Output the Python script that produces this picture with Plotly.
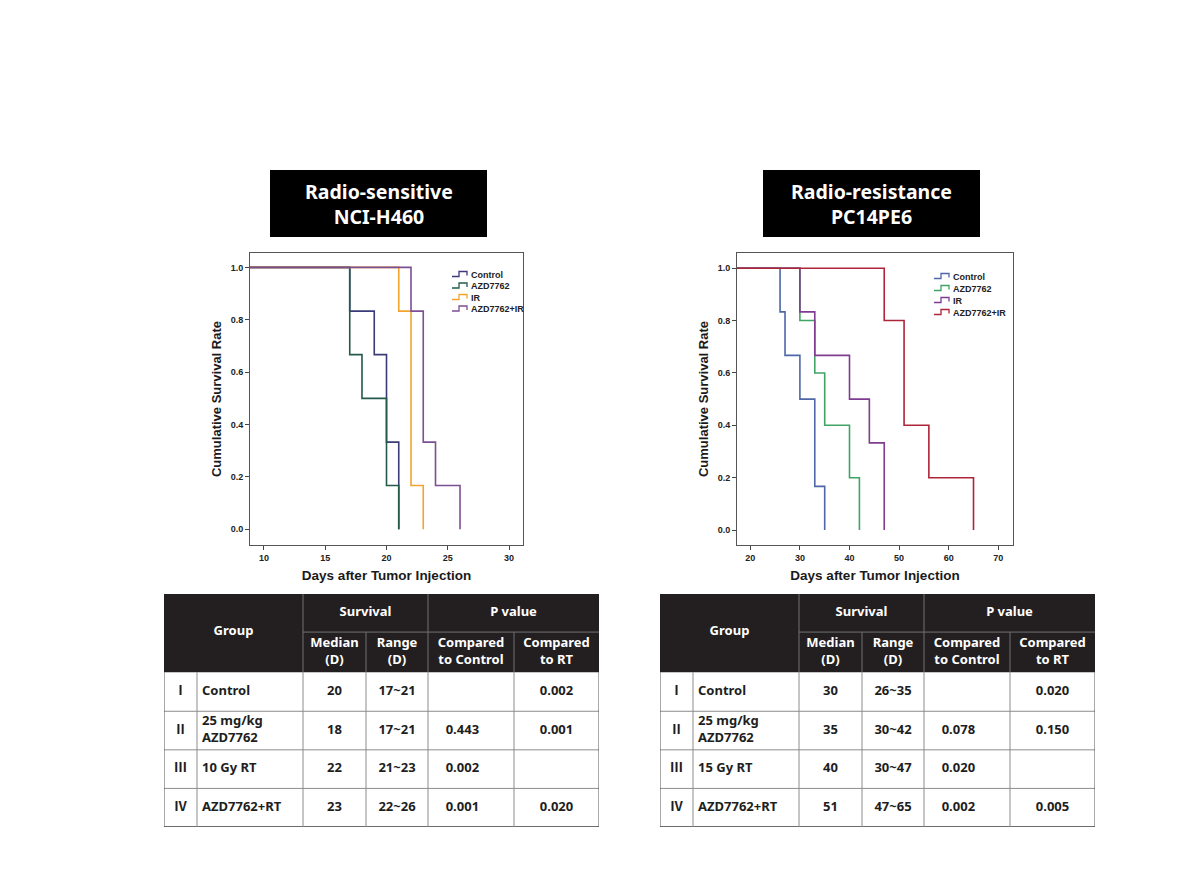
import plotly.graph_objects as go

W, H = 1190, 874

# ---------------- data ----------------
GROUPS = ["Control", "AZD7762", "IR", "AZD7762+IR"]

# NCI-H460 (radio-sensitive): event days and survival after each event
H460_CONTROL_DAYS = [17, 19, 20, 21]
H460_CONTROL_SURV = [0.833, 0.667, 0.333, 0.0]
H460_AZD_DAYS = [17, 18, 20, 21]
H460_AZD_SURV = [0.667, 0.5, 0.167, 0.0]
H460_IR_DAYS = [21, 22, 23]
H460_IR_SURV = [0.833, 0.167, 0.0]
H460_COMBO_DAYS = [22, 23, 24, 26]
H460_COMBO_SURV = [0.833, 0.333, 0.167, 0.0]

# PC14PE6 (radio-resistance)
PC14_CONTROL_DAYS = [26, 27, 30, 33, 35]
PC14_CONTROL_SURV = [0.833, 0.667, 0.5, 0.167, 0.0]
PC14_AZD_DAYS = [30, 33, 35, 40, 42]
PC14_AZD_SURV = [0.8, 0.6, 0.4, 0.2, 0.0]
PC14_IR_DAYS = [30, 33, 40, 44, 47]
PC14_IR_SURV = [0.833, 0.667, 0.5, 0.333, 0.0]
PC14_COMBO_DAYS = [47, 51, 56, 65]
PC14_COMBO_SURV = [0.8, 0.4, 0.2, 0.0]

H460_XTICKS = [10, 15, 20, 25, 30]
PC14_XTICKS = [20, 30, 40, 50, 60, 70]
Y_TICKS = [0.0, 0.2, 0.4, 0.6, 0.8, 1.0]

# Tables
ROMAN = ["Ⅰ", "Ⅱ", "Ⅲ", "Ⅳ"]
HEADER_TOP = ["Group", "Survival", "P value"]
HEADER_SUB = ["Median<br>(D)", "Range<br>(D)", "Compared<br>to Control", "Compared<br>to RT"]

H460_NAMES = ["Control", "25 mg/kg<br>AZD7762", "10 Gy RT", "AZD7762+RT"]
H460_MEDIAN = ["20", "18", "22", "23"]
H460_RANGE = ["17~21", "17~21", "21~23", "22~26"]
H460_P_CONTROL = ["", "0.443", "0.002", "0.001"]
H460_P_RT = ["0.002", "0.001", "", "0.020"]

PC14_NAMES = ["Control", "25 mg/kg<br>AZD7762", "15 Gy RT", "AZD7762+RT"]
PC14_MEDIAN = ["30", "35", "40", "51"]
PC14_RANGE = ["26~35", "30~42", "30~47", "47~65"]
PC14_P_CONTROL = ["", "0.078", "0.020", "0.002"]
PC14_P_RT = ["0.020", "0.150", "", "0.005"]

TITLE_LEFT = "Radio-sensitive<br>NCI-H460"
TITLE_RIGHT = "Radio-resistance<br>PC14PE6"

# ---------------- styles ----------------
H460_COLORS = ["#3a3b78", "#245a4b", "#f3a42f", "#7d4f92"]
PC14_COLORS = ["#4f66a8", "#3fa464", "#7f3c90", "#ae2438"]
AX_FONT = "Liberation Sans"
KR_FONT = "Noto Sans CJK KR"


def px(x):
    return x / W


def py(y):
    return 1 - y / H


fig = go.Figure()
shapes = []
annotations = []


def km_traces(days_list, surv_list, colors, xa, ya):
    for name, d, s, c in zip(GROUPS, days_list, surv_list, colors):
        fig.add_trace(go.Scatter(
            x=[0] + d, y=[1.0] + s, mode="lines", line_shape="hv",
            line=dict(color=c, width=1.6), name=name, showlegend=False,
            xaxis=xa, yaxis=ya, hoverinfo="skip"))


km_traces([H460_CONTROL_DAYS, H460_AZD_DAYS, H460_IR_DAYS, H460_COMBO_DAYS],
          [H460_CONTROL_SURV, H460_AZD_SURV, H460_IR_SURV, H460_COMBO_SURV],
          H460_COLORS, "x", "y")
km_traces([PC14_CONTROL_DAYS, PC14_AZD_DAYS, PC14_IR_DAYS, PC14_COMBO_DAYS],
          [PC14_CONTROL_SURV, PC14_AZD_SURV, PC14_IR_SURV, PC14_COMBO_SURV],
          PC14_COLORS, "x2", "y2")


# custom compact legends (SPSS style step icons)
def legend(x0, y0, dy, colors):
    for i, (name, c) in enumerate(zip(GROUPS, colors)):
        yc = y0 + i * dy
        path = (f"M {px(x0)},{py(yc + 2)} L {px(x0 + 7)},{py(yc + 2)} "
                f"L {px(x0 + 7)},{py(yc - 3)} L {px(x0 + 15)},{py(yc - 3)} "
                f"L {px(x0 + 15)},{py(yc + 1)}")
        shapes.append(dict(type="path", xref="paper", yref="paper", path=path,
                           line=dict(color=c, width=1.3)))
        annotations.append(dict(xref="paper", yref="paper", x=px(x0 + 17), y=py(yc),
                                text=name, showarrow=False, xanchor="left", yanchor="middle",
                                font=dict(family=AX_FONT, size=9, color="#222", weight="bold")))


legend(452, 274.5, 11.5, H460_COLORS)
legend(934, 276.5, 12, PC14_COLORS)

# title boxes
for (x0, x1), txt in [((270, 487), TITLE_LEFT), ((763, 980), TITLE_RIGHT)]:
    shapes.append(dict(type="rect", xref="paper", yref="paper",
                       x0=px(x0), x1=px(x1), y0=py(237), y1=py(170),
                       fillcolor="#000000", line=dict(width=0)))
    annotations.append(dict(xref="paper", yref="paper", x=px((x0 + x1) / 2), y=py(204),
                            text=txt, showarrow=False, xanchor="center", yanchor="middle",
                            align="center",
                            font=dict(family="Noto Sans", size=19.5, color="#ffffff",
                                      weight="bold")))

# ---------------- tables ----------------
COL_W = [33, 106, 63, 62, 86, 85]
ROW_H = [38, 40, 39, 38.5, 38.5, 38.5]
XE = [sum(COL_W[:i]) for i in range(len(COL_W) + 1)]
YE = [sum(ROW_H[:i]) for i in range(len(ROW_H) + 1)]
TW, TH = XE[-1], YE[-1]
HDR = YE[2]


def table(xa, ya, names, median, rng, pc, prt):
    xr, yr = xa, ya
    ln_h = "#707070"
    ln_b = "#8c8c8c"
    shapes.append(dict(type="rect", xref=xr, yref=yr, x0=0, x1=TW, y0=0, y1=HDR,
                       fillcolor="#231f20", line=dict(width=0), layer="below"))
    # header inner lines
    shapes.append(dict(type="line", xref=xr, yref=yr, x0=XE[2], x1=TW, y0=YE[1], y1=YE[1],
                       line=dict(color=ln_h, width=1)))
    for xv, ytop in [(XE[2], 0), (XE[4], 0), (XE[3], YE[1]), (XE[5], YE[1])]:
        shapes.append(dict(type="line", xref=xr, yref=yr, x0=xv, x1=xv, y0=ytop, y1=HDR,
                           line=dict(color=ln_h, width=1)))
    # body lines
    for yv in YE[3:-1]:
        shapes.append(dict(type="line", xref=xr, yref=yr, x0=0, x1=TW, y0=yv, y1=yv,
                           line=dict(color=ln_b, width=1)))
    shapes.append(dict(type="line", xref=xr, yref=yr, x0=0, x1=TW, y0=TH, y1=TH,
                       line=dict(color="#3a3a3a", width=1.5)))
    for i, xv in enumerate(XE):
        shapes.append(dict(type="line", xref=xr, yref=yr, x0=xv, x1=xv, y0=HDR, y1=TH,
                           line=dict(color="#555555" if i in (0, len(XE) - 1) else ln_b,
                                     width=1)))

    hfont = dict(family="Noto Sans", size=13, color="#ffffff", weight="bold")
    bfont = dict(family="Noto Sans", size=13, color="#1e1e1e", weight="bold")
    # header text
    fig.add_trace(go.Scatter(
        x=[(XE[0] + XE[2]) / 2, (XE[2] + XE[4]) / 2, (XE[4] + XE[6]) / 2],
        y=[HDR / 2 - 1, YE[1] / 2, YE[1] / 2],
        text=HEADER_TOP, mode="text", textposition="middle center", textfont=hfont,
        xaxis=xa, yaxis=ya, showlegend=False, hoverinfo="skip"))
    fig.add_trace(go.Scatter(
        x=[(XE[i] + XE[i + 1]) / 2 for i in range(2, 6)],
        y=[(YE[1] + YE[2]) / 2] * 4,
        text=HEADER_SUB, mode="text", textposition="middle center", textfont=hfont,
        xaxis=xa, yaxis=ya, showlegend=False, hoverinfo="skip"))
    ymid = [(YE[i] + YE[i + 1]) / 2 for i in range(2, 6)]
    fig.add_trace(go.Scatter(
        x=[(XE[0] + XE[1]) / 2] * 4, y=ymid, text=ROMAN, mode="text",
        textposition="middle center",
        textfont=dict(family=KR_FONT, size=13, color="#1e1e1e", weight="bold"),
        xaxis=xa, yaxis=ya, showlegend=False, hoverinfo="skip"))
    fig.add_trace(go.Scatter(
        x=[XE[1] + 5] * 4, y=ymid, text=names, mode="text", textposition="middle right",
        textfont=bfont, xaxis=xa, yaxis=ya, showlegend=False, hoverinfo="skip"))
    for ci, col, shift in [(2, median, 0), (3, rng, 0), (4, pc, -0.1), (5, prt, 0)]:
        fig.add_trace(go.Scatter(
            x=[(XE[ci] + XE[ci + 1]) / 2 + shift * COL_W[ci]] * 4, y=ymid, text=col,
            mode="text", textposition="middle center", textfont=bfont,
            xaxis=xa, yaxis=ya, showlegend=False, hoverinfo="skip"))


table("x3", "y3", H460_NAMES, H460_MEDIAN, H460_RANGE, H460_P_CONTROL, H460_P_RT)
table("x4", "y4", PC14_NAMES, PC14_MEDIAN, PC14_RANGE, PC14_P_CONTROL, PC14_P_RT)

# ---------------- axes ----------------
tickfont = dict(family=AX_FONT, size=9, color="#222", weight="bold")
xtitlefont = dict(family=AX_FONT, size=13.5, color="#1a1a1a", weight="bold")
ytitlefont = dict(family=AX_FONT, size=13, color="#1a1a1a", weight="bold")
common_x = dict(showline=True, mirror=True, linecolor="#555", linewidth=1, ticks="outside",
                ticklen=4, tickcolor="#444", showgrid=False, zeroline=False, tickfont=tickfont,
                title=dict(text="Days after Tumor Injection", font=xtitlefont, standoff=8))
common_y = dict(showline=True, mirror=True, linecolor="#555", linewidth=1, ticks="outside",
                ticklen=4, tickcolor="#444", showgrid=False, zeroline=False, tickfont=tickfont,
                tickvals=Y_TICKS, tickformat=".1f",
                title=dict(text="Cumulative Survival Rate", font=ytitlefont, standoff=6))
ydom = [py(545), py(253)]

fig.update_layout(
    width=W, height=H, margin=dict(l=0, r=0, t=0, b=0),
    paper_bgcolor="white", plot_bgcolor="white", showlegend=False,
    xaxis=dict(domain=[px(250), px(523)], range=[8.86, 31.14], tickvals=H460_XTICKS,
               anchor="y", **common_x),
    yaxis=dict(domain=ydom, range=[-0.06, 1.055], anchor="x", **common_y),
    xaxis2=dict(domain=[px(737), px(1013)], range=[17.32, 72.96], tickvals=PC14_XTICKS,
                anchor="y2", **common_x),
    yaxis2=dict(domain=ydom, range=[-0.057, 1.058], anchor="x2", **common_y),
    xaxis3=dict(domain=[px(164), px(599)], range=[0, TW], visible=False, anchor="y3"),
    yaxis3=dict(domain=[py(827), py(594)], range=[TH, 0], visible=False, anchor="x3"),
    xaxis4=dict(domain=[px(660), px(1095)], range=[0, TW], visible=False, anchor="y4"),
    yaxis4=dict(domain=[py(827), py(594)], range=[TH, 0], visible=False, anchor="x4"),
    shapes=shapes, annotations=annotations,
)

fig.write_html("out.html", config={"displayModeBar": False},
               post_script="document.body.style.margin='0';document.body.style.overflow='hidden';")
